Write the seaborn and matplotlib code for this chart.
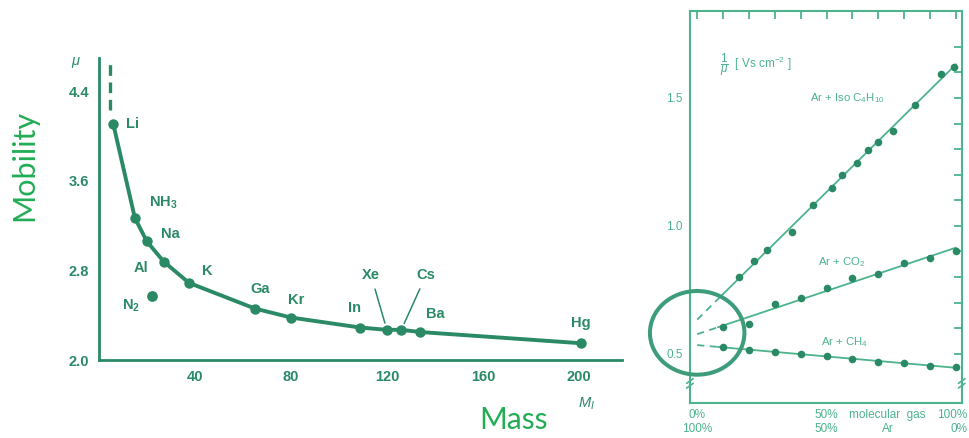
import numpy as np
import pandas as pd
import matplotlib
matplotlib.use("Agg")
import matplotlib.pyplot as plt
from matplotlib.patches import Ellipse
import seaborn as sns

# ---------------- data: left panel ----------------
elements = ["Li", "NH$_\\mathbf{3}$", "Na", "Al", "K", "Ga", "Kr", "In", "Xe", "Cs", "Ba", "Hg"]
mass = [6, 15, 20, 27, 37.5, 65, 80, 109, 120, 126, 134, 201]
mobility = [4.11, 3.27, 3.06, 2.88, 2.69, 2.46, 2.38, 2.29, 2.27, 2.27, 2.25, 2.15]
n2_label = "N$_\\mathbf{2}$"
n2_mass = [22]
n2_mobility = [2.57]
dash_mass = [4.7, 4.7]
dash_mobility = [4.23, 4.67]
left_xticks = [40, 80, 120, 160, 200]
left_yticks = [2.0, 2.8, 3.6, 4.4]

# ---------------- data: right panel ----------------
pct_iso = [16, 22, 27, 36.5, 44.6, 52, 55.8, 61.9, 65.9, 69.7, 75.5, 84.3, 94.2, 99.3]
inv_iso = [0.801, 0.863, 0.905, 0.976, 1.080, 1.149, 1.197, 1.246, 1.297, 1.327, 1.372, 1.474, 1.595, 1.619]
pct_co2 = [10, 20, 30, 40, 50, 60, 70, 80, 90, 100]
inv_co2 = [0.606, 0.616, 0.694, 0.719, 0.756, 0.795, 0.812, 0.856, 0.873, 0.901]
pct_ch4 = [10, 20, 30, 40, 50, 60, 70, 80, 90, 100]
inv_ch4 = [0.525, 0.516, 0.507, 0.500, 0.492, 0.481, 0.468, 0.464, 0.453, 0.447]
series_names = ["Ar + Iso C$_4$H$_{10}$", "Ar + CO$_2$", "Ar + CH$_4$"]
right_yticks = [0.5, 0.6, 0.7, 0.8, 0.9, 1.0, 1.1, 1.2, 1.3, 1.4, 1.5, 1.6, 1.7]
right_ylabels = ["0.5", "", "", "", "", "1.0", "", "", "", "", "1.5", "", ""]
right_xticks = [0, 10, 20, 30, 40, 50, 60, 70, 80, 90, 100]

# ---------------- style ----------------
sns.set_style("white")
plt.rcParams["font.family"] = ["Liberation Sans", "DejaVu Sans"]
plt.rcParams["mathtext.fontset"] = "custom"
plt.rcParams["mathtext.rm"] = "Liberation Sans"
plt.rcParams["mathtext.bf"] = "Liberation Sans:bold"
plt.rcParams["mathtext.it"] = "Liberation Sans:italic"

DARK = "#2a8a66"
LIGHT = "#4cb38c"
BRIGHT = "#22ad55"

fig = plt.figure(figsize=(9.69, 4.38), dpi=100)
fig.patch.set_facecolor("white")

# ================= left panel =================
axL = fig.add_axes([0.102, 0.178, 0.540, 0.690])
df = pd.DataFrame({"mass": mass, "mobility": mobility, "el": elements})
sns.lineplot(data=df, x="mass", y="mobility", ax=axL, color=DARK, lw=2.8,
             marker="o", markersize=7.5, markeredgewidth=0, sort=True)
sns.scatterplot(x=n2_mass, y=n2_mobility, ax=axL, color=DARK, s=60, linewidth=0)
axL.plot(dash_mass, dash_mobility, color=DARK, lw=2.4, ls=(0, (3.2, 2.0)))

axL.set_xlim(0, 218)
axL.set_ylim(2.0, 4.70)
axL.set_xticks(left_xticks)
axL.set_yticks(left_yticks)
axL.set_yticklabels([f"{v:.1f}" for v in left_yticks])
axL.tick_params(axis="both", direction="in", colors=DARK, width=1.6, length=7,
                labelsize=10.5, pad=7)
for lab in axL.get_xticklabels() + axL.get_yticklabels():
    lab.set_fontweight("bold")
for s in ["top", "right"]:
    axL.spines[s].set_visible(False)
for s in ["left", "bottom"]:
    axL.spines[s].set_color(DARK)
    axL.spines[s].set_linewidth(2.0)
axL.set_xlabel("")
axL.set_ylabel("")

offsets = {
    "Li": (13, 0, "left"),
    "NH$_\\mathbf{3}$": (14, 15, "left"),
    "Na": (14, 7, "left"),
    "Al": (-15, -6, "right"),
    "K": (13, 12, "left"),
    "Ga": (5, 20, "center"),
    "Kr": (5, 18, "center"),
    "In": (-6, 20, "center"),
    "Xe": (-16, 55, "center"),
    "Cs": (25, 55, "center"),
    "Ba": (6, 18, "left"),
    "Hg": (0, 20, "center"),
}
for el, mx, my in zip(elements, mass, mobility):
    dx, dy, ha = offsets[el]
    kw = {}
    if el in ("Xe", "Cs"):
        kw["arrowprops"] = dict(arrowstyle="-", color=DARK, lw=1.1, shrinkA=3, shrinkB=5)
    axL.annotate(el, (mx, my), xytext=(dx, dy), textcoords="offset pixels",
                 ha=ha, va="center", color=DARK, fontsize=10.5, fontweight="bold", **kw)
axL.annotate(n2_label, (n2_mass[0], n2_mobility[0]), xytext=(-12, -10),
             textcoords="offset pixels", ha="right", va="center", color=DARK,
             fontsize=10.5, fontweight="bold")

fig.text(76 / 969, 1 - 62 / 438, r"$\mathit{\mu}$", color=DARK, fontsize=10.5,
         ha="center", va="center")
fig.text(587 / 969, 1 - 404 / 438, r"$\mathbf{\mathit{M}}_{\mathit{I}}$", color=DARK,
         fontsize=10.5, ha="center", va="center")
fig.text(24 / 969, 1 - 165 / 438, "Mobility", color=BRIGHT, fontsize=22,
         family=["Lato", "DejaVu Sans"], rotation=90, ha="center", va="center")
fig.text(513 / 969, 1 - 420 / 438, "Mass", color=BRIGHT, fontsize=21.5,
         family=["Lato", "DejaVu Sans"], ha="center", va="center")

# ================= right panel =================
axR = fig.add_axes([0.712, 0.080, 0.2805, 0.895])
xlo, xhi = -2.8, 102.2
axR.set_xlim(xlo, xhi)
axR.set_ylim(0.308, 1.84)

split = {0: 9, 1: 8, 2: 8}
for i, (px, py) in enumerate([(pct_iso, inv_iso), (pct_co2, inv_co2), (pct_ch4, inv_ch4)]):
    sns.scatterplot(x=px, y=py, ax=axR, color=DARK, s=30, linewidth=0, zorder=3)
    k, b = np.polyfit(px, py, 1)
    xs = np.array([split[i], 100])
    axR.plot(xs, k * xs + b, color=LIGHT, lw=1.3, zorder=2)
    xd = np.array([0, split[i]])
    axR.plot(xd, k * xd + b, color=LIGHT, lw=1.3, ls=(0, (4, 3)), zorder=2)

axR.set_yticks(right_yticks)
axR.set_yticklabels(right_ylabels)
axR.set_xticks(right_xticks)
axR.set_xticklabels([])
axR.tick_params(axis="both", direction="in", colors=LIGHT, width=1.3, length=6,
                labelsize=8.5, top=True, right=True, labelcolor=LIGHT, pad=5)
for lab in axR.get_yticklabels():
    lab.set_family(["Liberation Sans Narrow", "Liberation Sans"])
for s in axR.spines.values():
    s.set_color(LIGHT)
    s.set_linewidth(1.5)
axR.set_xlabel("")
axR.set_ylabel("")

# axis-break marks on both side spines
for xa in (0.0, 1.0):
    for dyb in (-0.006, 0.006):
        axR.plot([xa - 0.012, xa + 0.012], [0.05 + dyb - 0.006, 0.05 + dyb + 0.006],
                 transform=axR.transAxes, color=LIGHT, lw=1.2, clip_on=False, zorder=5)

tkw = dict(color=LIGHT, fontsize=8.5, family=["Liberation Sans Narrow", "Liberation Sans"])
rows = [("0%", "100%", 0, "center"), ("50%", "50%", 50, "center"),
        ("molecular  gas", "Ar", 73.5, "center"), ("100%", "0%", 104.4, "right")]
for top, bot, xv, ha in rows:
    axR.text(xv, -0.015, top, transform=axR.get_xaxis_transform(), ha=ha, va="top", **tkw)
    axR.text(xv, -0.052, bot, transform=axR.get_xaxis_transform(), ha=ha, va="top", **tkw)

axR.text(9, 1.63, r"$\dfrac{1}{\mu}$  [ Vs cm$^{-2}$ ]", **{**tkw, "fontsize": 8.5}, va="center")
axR.text(58, 1.50, series_names[0], ha="center", va="center", **{**tkw, "fontsize": 8.2})
axR.text(56, 0.86, series_names[1], ha="center", va="center", **{**tkw, "fontsize": 8.2})
axR.text(57, 0.545, series_names[2], ha="center", va="center", **{**tkw, "fontsize": 8.2})

ell = Ellipse((0.0, 0.582), width=36.5, height=0.327, fill=False, edgecolor="#3d9c7a",
              lw=2.9, clip_on=False, zorder=6)
axR.add_patch(ell)

fig.savefig("out.png", dpi=100, facecolor="white")
